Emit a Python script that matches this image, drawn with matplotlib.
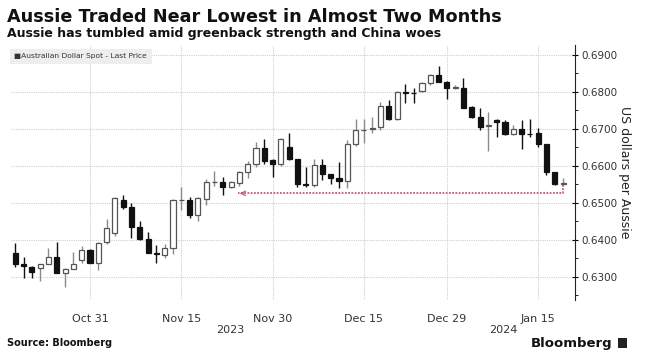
import matplotlib
matplotlib.use("Agg")
import matplotlib.pyplot as plt
import numpy as np
import pandas as pd

# daily candles, Oct 18 2023 - Jan 18 2024 (weekdays)
dates = pd.bdate_range("2023-10-18", "2024-01-18")

opens = [0.6364, 0.6334, 0.6328, 0.6324, 0.6334, 0.6355, 0.6310, 0.6322, 0.6346, 0.6373,
         0.6337, 0.6394, 0.6420, 0.6508, 0.6488, 0.6434, 0.6402, 0.6366, 0.6358, 0.6378,
         0.6508, 0.6508, 0.6468, 0.6510, 0.6556, 0.6556, 0.6542, 0.6553, 0.6583, 0.6605,
         0.6648, 0.6616, 0.6605, 0.6651, 0.6619, 0.6551, 0.6549, 0.6602, 0.6578, 0.6567,
         0.6558, 0.6659, 0.6697, 0.6699, 0.6704, 0.6762, 0.6727, 0.6801, 0.6797, 0.6803,
         0.6823, 0.6846, 0.6828, 0.6812, 0.6812, 0.6760, 0.6732, 0.6709, 0.6724, 0.6718,
         0.6686, 0.6699, 0.6687, 0.6688, 0.6659, 0.6583, 0.6551]
highs = [0.6392, 0.6355, 0.6330, 0.6336, 0.6378, 0.6395, 0.6325, 0.6367, 0.6384, 0.6376,
         0.6395, 0.6456, 0.6515, 0.6522, 0.6499, 0.6451, 0.6422, 0.6386, 0.6389, 0.6510,
         0.6542, 0.6516, 0.6515, 0.6564, 0.6586, 0.6571, 0.6560, 0.6587, 0.6614, 0.6664,
         0.6673, 0.6620, 0.6675, 0.6688, 0.6620, 0.6597, 0.6618, 0.6618, 0.6579, 0.6612,
         0.6670, 0.6726, 0.6726, 0.6733, 0.6774, 0.6778, 0.6803, 0.6822, 0.6810, 0.6826,
         0.6848, 0.6870, 0.6830, 0.6818, 0.6837, 0.6762, 0.6758, 0.6747, 0.6727, 0.6724,
         0.6711, 0.6724, 0.6726, 0.6702, 0.6660, 0.6585, 0.6567]
lows = [0.6328, 0.6296, 0.6296, 0.6290, 0.6334, 0.6310, 0.6272, 0.6322, 0.6337, 0.6337,
        0.6319, 0.6389, 0.6410, 0.6485, 0.6405, 0.6400, 0.6364, 0.6339, 0.6350, 0.6362,
        0.6481, 0.6459, 0.6452, 0.6495, 0.6545, 0.6522, 0.6540, 0.6545, 0.6567, 0.6598,
        0.6605, 0.6571, 0.6600, 0.6615, 0.6544, 0.6544, 0.6542, 0.6562, 0.6551, 0.6540,
        0.6541, 0.6654, 0.6661, 0.6690, 0.6697, 0.6724, 0.6724, 0.6771, 0.6771, 0.6800,
        0.6820, 0.6826, 0.6780, 0.6808, 0.6756, 0.6730, 0.6697, 0.6641, 0.6678, 0.6684,
        0.6684, 0.6646, 0.6678, 0.6651, 0.6576, 0.6549, 0.6548]
closes = [0.6335, 0.6329, 0.6313, 0.6334, 0.6355, 0.6310, 0.6322, 0.6334, 0.6373, 0.6337,
          0.6393, 0.6431, 0.6513, 0.6488, 0.6436, 0.6402, 0.6366, 0.6361, 0.6378, 0.6508,
          0.6509, 0.6468, 0.6513, 0.6556, 0.6557, 0.6542, 0.6556, 0.6583, 0.6605, 0.6648,
          0.6614, 0.6605, 0.6673, 0.6618, 0.6551, 0.6549, 0.6602, 0.6578, 0.6567, 0.6558,
          0.6659, 0.6697, 0.6698, 0.6703, 0.6762, 0.6727, 0.6801, 0.6798, 0.6796, 0.6823,
          0.6846, 0.6828, 0.6810, 0.6814, 0.6758, 0.6732, 0.6706, 0.6710, 0.6718, 0.6686,
          0.6699, 0.6686, 0.6686, 0.6659, 0.6583, 0.6551, 0.6553]

tick_dates = ["2023-10-31", "2023-11-15", "2023-11-30", "2023-12-15", "2023-12-29", "2024-01-15"]
tick_labels = ["Oct 31", "Nov 15", "Nov 30", "Dec 15", "Dec 29", "Jan 15"]
y_ticks = [0.63, 0.64, 0.65, 0.66, 0.67, 0.68, 0.69]
ref_level = 0.6526      # dotted marker level
ref_start = "2023-11-24"

fig = plt.figure(figsize=(6.45, 3.57), dpi=100)
ax = fig.add_axes([0.017, 0.160, 0.874, 0.714])

x = np.arange(len(dates))
o = np.array(opens); h = np.array(highs); l = np.array(lows); c = np.array(closes)
up = c >= o

# wicks
ax.vlines(x[up], l[up], h[up], color="#8a8a8a", lw=1, zorder=2)
ax.vlines(x[~up], l[~up], h[~up], color="#111111", lw=1, zorder=2)
# bodies
body = np.maximum(np.abs(c - o), 0.00012)
ax.bar(x[up], body[up], bottom=np.minimum(o, c)[up], width=0.62,
       color="white", edgecolor="#555555", lw=0.9, zorder=3)
ax.bar(x[~up], body[~up], bottom=np.minimum(o, c)[~up], width=0.62,
       color="#111111", edgecolor="#111111", lw=0.9, zorder=3)

# dotted marker line back to the late-Nov level
pos = {d.strftime("%Y-%m-%d"): i for i, d in enumerate(dates)}
x0 = pos[ref_start] - 0.2
ax.plot([x[-1], x[-1], x0], [l[-1], ref_level, ref_level], color="#c45a78",
        lw=1.3, ls=(0, (1, 0.8)), zorder=4)
ax.annotate("", xy=(x0 - 0.1, ref_level), xytext=(x0 + 1.0, ref_level),
            arrowprops=dict(arrowstyle="->", color="#c45a78", lw=0.9,
                            mutation_scale=8), zorder=4)

ax.set_xlim(-0.52, 67.4)
ax.set_ylim(0.6238, 0.6927)

xt = [pos[d] for d in tick_dates]
ax.set_xticks(xt)
ax.set_xticklabels(tick_labels, fontsize=8, color="#333333")
ax.tick_params(axis="x", length=0, pad=10)
ax.set_yticks(y_ticks)
ax.set_yticks(np.arange(0.625, 0.6926, 0.005), minor=True)
ax.set_yticklabels(["%.4f" % v for v in y_ticks], fontsize=7.5, color="#333333")
ax.yaxis.tick_right()
ax.tick_params(axis="y", which="major", direction="inout", length=5, width=0.8, pad=2)
ax.tick_params(axis="y", which="minor", direction="out", length=2, width=0.6)
ax.set_ylabel("US dollars per Aussie", rotation=270, fontsize=9, color="#222222", labelpad=10)
ax.yaxis.set_label_position("right")

ax.grid(True, which="major", color="#cfcfcf", lw=0.8, ls=(0, (1, 1)))
for s in ["left", "top", "bottom"]:
    ax.spines[s].set_visible(False)
ax.spines["right"].set_color("#222222")

# year labels
ax.text(25.9, -0.10, "2023", transform=ax.get_xaxis_transform(), ha="center",
        va="top", fontsize=8, color="#333333")
ax.text(58.8, -0.10, "2024", transform=ax.get_xaxis_transform(), ha="center",
        va="top", fontsize=8, color="#333333")

# legend box
ax.text(-0.1, 0.6897, "\u25a0Australian Dollar Spot - Last Price", fontsize=5.4,
        color="#333333", va="center", ha="left", zorder=5,
        bbox=dict(boxstyle="square,pad=0.6", fc="#eeeeee", ec="none"))

fig.text(0.011, 0.952, "Aussie Traded Near Lowest in Almost Two Months",
         fontsize=12.7, fontweight="bold", color="#111111", va="center")
fig.text(0.011, 0.905, "Aussie has tumbled amid greenback strength and China woes",
         fontsize=9, fontweight="bold", color="#111111", va="center")
fig.text(0.011, 0.038, "Source: Bloomberg", fontsize=7, fontweight="bold",
         color="#111111", va="center")
fig.text(0.950, 0.038, "Bloomberg", fontsize=9.5, fontweight="bold",
         color="#111111", va="center", ha="right")
fig.patches.append(plt.Rectangle((0.958, 0.026), 0.014, 0.026, transform=fig.transFigure,
                                 fc="#222222", ec="none"))

fig.savefig("out.png", dpi=100)
